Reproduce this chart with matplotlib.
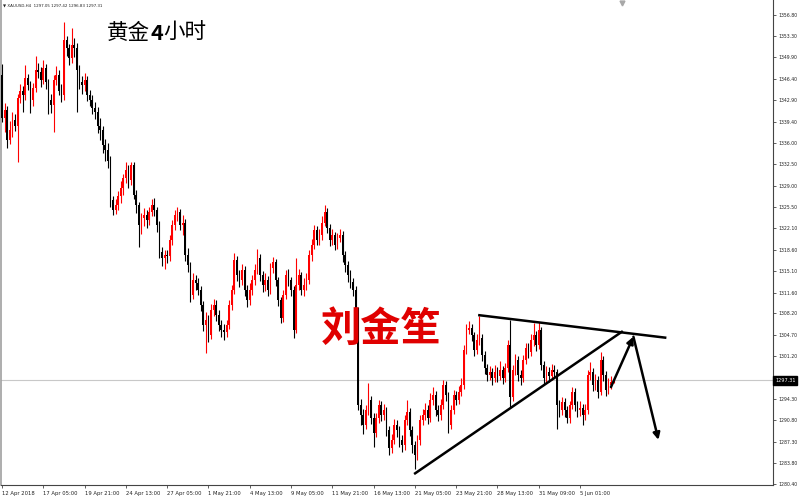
import matplotlib.pyplot as plt
import numpy as np

# XAUUSD H4, bars from 12 Apr 2018 13:00 (open of each bar = previous close)
first_open = 1347.0
close = [1340.0, 1341.3, 1336.4, 1338.0, 1339.7, 1338.8, 1343.2, 1344.5, 1343.7, 1346.5,
         1345.4, 1342.9, 1344.9, 1347.8, 1347.5, 1346.2, 1348.1, 1345.9, 1342.9, 1342.1,
         1346.2, 1347.0, 1344.5, 1343.7, 1352.7, 1351.4, 1349.8, 1351.9, 1351.4, 1347.8,
         1345.9, 1345.4, 1346.2, 1343.7, 1342.9, 1341.6, 1341.0, 1338.8, 1338.0, 1335.6,
         1334.8, 1333.1, 1326.6, 1325.0, 1325.8, 1327.3, 1328.6, 1330.2, 1331.5, 1329.9,
         1332.3, 1327.4, 1325.8, 1322.6, 1323.7, 1324.2, 1323.4, 1324.7, 1325.8, 1325.0,
         1322.6, 1318.2, 1317.2, 1317.7, 1317.5, 1320.1, 1322.6, 1324.2, 1324.7, 1322.6,
         1323.0, 1317.7, 1316.0, 1311.2, 1313.6, 1313.1, 1312.0, 1309.5, 1306.3, 1307.1,
         1304.6, 1308.7, 1309.5, 1307.9, 1306.3, 1305.5, 1305.1, 1306.3, 1309.5, 1312.0,
         1316.9, 1314.4, 1313.6, 1315.2, 1312.0, 1310.3, 1312.0, 1313.6, 1315.2, 1317.2,
         1314.4, 1312.8, 1313.6, 1312.0, 1315.6, 1316.5, 1313.6, 1310.3, 1307.4, 1311.2,
         1314.4, 1313.6, 1312.0, 1305.5, 1312.8, 1314.4, 1312.0, 1312.8, 1313.6, 1317.7,
         1319.3, 1321.7, 1320.1, 1320.9, 1323.0, 1324.7, 1322.1, 1320.1, 1320.9, 1319.3,
         1320.4, 1320.9, 1317.7, 1316.0, 1314.4, 1313.3, 1312.0, 1308.7, 1293.2, 1291.6,
         1290.0, 1292.4, 1294.1, 1291.1, 1288.8, 1291.1, 1293.2, 1291.6, 1292.4, 1289.2,
         1286.2, 1287.5, 1290.0, 1289.2, 1287.5, 1286.7, 1290.8, 1292.1, 1289.2, 1286.7,
         1285.1, 1287.5, 1290.8, 1291.6, 1292.4, 1291.1, 1294.1, 1294.9, 1292.4, 1291.6,
         1293.2, 1296.5, 1294.9, 1290.0, 1292.4, 1294.9, 1294.1, 1295.4, 1296.5, 1302.2,
         1305.5, 1305.9, 1304.6, 1302.2, 1303.8, 1304.2, 1301.4, 1299.3, 1298.1, 1298.6,
         1297.6, 1298.6, 1298.0, 1298.9, 1297.6, 1299.3, 1303.0, 1294.6, 1298.9, 1300.6,
         1298.1, 1297.6, 1300.6, 1302.5, 1301.9, 1303.8, 1304.6, 1303.0, 1305.5, 1299.8,
         1297.6, 1298.6, 1298.0, 1298.9, 1298.6, 1293.2, 1292.4, 1293.7, 1292.4, 1291.1,
         1293.2, 1295.4, 1293.2, 1292.4, 1292.8, 1291.6, 1292.4, 1298.1, 1298.6, 1296.5,
         1297.3, 1295.4, 1300.6, 1298.1, 1295.7, 1296.5, 1297.05, 1297.31]
high = [1348.8, 1342.5, 1342.0, 1339.5, 1341.0, 1340.6, 1343.9, 1345.6, 1345.2, 1348.6,
        1347.2, 1346.0, 1345.8, 1350.2, 1348.9, 1348.3, 1349.4, 1348.8, 1346.4, 1344.0,
        1347.0, 1348.5, 1347.8, 1345.5, 1355.6, 1353.4, 1352.0, 1354.6, 1353.0, 1352.3,
        1348.6, 1346.9, 1347.3, 1346.8, 1344.6, 1343.8, 1342.7, 1341.8, 1340.0, 1338.7,
        1336.6, 1336.0, 1333.8, 1327.3, 1326.9, 1328.1, 1329.7, 1330.9, 1332.9, 1332.3,
        1332.9, 1332.8, 1328.3, 1326.4, 1324.6, 1325.3, 1325.0, 1325.6, 1326.9, 1327.0,
        1325.6, 1323.2, 1319.0, 1318.6, 1318.5, 1320.9, 1323.4, 1325.0, 1325.5, 1325.2,
        1324.3, 1323.6, 1318.9, 1316.6, 1314.7, 1314.5, 1314.0, 1312.7, 1310.2, 1308.4,
        1307.9, 1309.7, 1310.6, 1310.3, 1308.8, 1307.1, 1306.4, 1307.2, 1310.3, 1312.9,
        1318.0, 1317.5, 1315.3, 1316.3, 1315.9, 1312.8, 1313.1, 1314.5, 1316.2, 1318.7,
        1317.8, 1315.1, 1314.8, 1314.3, 1316.4, 1317.4, 1317.0, 1314.2, 1310.9, 1312.0,
        1315.3, 1315.4, 1314.1, 1312.6, 1317.2, 1315.4, 1315.0, 1313.9, 1314.7, 1318.5,
        1320.3, 1322.6, 1322.4, 1322.0, 1324.0, 1325.8, 1325.3, 1322.8, 1321.9, 1321.5,
        1321.3, 1322.0, 1321.6, 1318.4, 1316.8, 1315.2, 1314.0, 1312.6, 1309.3, 1294.3,
        1292.6, 1293.3, 1296.9, 1294.8, 1291.9, 1292.0, 1294.1, 1294.0, 1293.5, 1293.0,
        1289.8, 1288.6, 1291.0, 1290.9, 1289.9, 1288.4, 1291.6, 1294.1, 1292.8, 1289.8,
        1287.4, 1288.4, 1291.6, 1292.7, 1293.6, 1293.2, 1295.2, 1296.2, 1295.5, 1293.2,
        1294.3, 1297.3, 1297.2, 1295.4, 1293.3, 1295.8, 1295.6, 1296.4, 1297.6, 1303.0,
        1306.5, 1306.9, 1306.4, 1305.2, 1304.8, 1307.8, 1304.9, 1302.0, 1300.0, 1299.7,
        1299.3, 1299.8, 1299.4, 1300.4, 1299.6, 1300.2, 1303.8, 1307.1, 1299.8, 1301.6,
        1301.2, 1298.9, 1301.5, 1303.4, 1303.3, 1304.9, 1306.6, 1305.4, 1306.8, 1306.0,
        1300.5, 1299.6, 1299.4, 1299.9, 1299.8, 1299.2, 1294.1, 1294.6, 1294.4, 1293.1,
        1294.0, 1296.2, 1296.0, 1294.0, 1293.9, 1293.5, 1293.4, 1298.9, 1300.3, 1299.3,
        1298.4, 1298.0, 1301.9, 1301.2, 1298.8, 1297.6, 1298.0, 1297.42]
low = [1339.3, 1337.8, 1335.2, 1335.8, 1337.0, 1337.9, 1332.8, 1342.4, 1341.0, 1343.0,
       1344.6, 1340.9, 1342.0, 1344.2, 1346.6, 1345.0, 1345.5, 1344.8, 1340.6, 1340.8,
       1337.8, 1345.4, 1343.8, 1342.6, 1343.0, 1350.2, 1348.6, 1349.0, 1349.9, 1341.0,
       1344.8, 1344.0, 1344.5, 1342.8, 1341.9, 1340.7, 1339.8, 1337.6, 1336.5, 1334.4,
       1333.0, 1331.9, 1325.5, 1324.3, 1324.4, 1325.0, 1326.2, 1327.5, 1329.4, 1328.7,
       1329.1, 1326.8, 1324.6, 1319.0, 1321.2, 1322.4, 1322.1, 1322.6, 1324.0, 1324.1,
       1321.5, 1317.3, 1315.9, 1315.5, 1316.4, 1316.8, 1319.4, 1321.8, 1323.3, 1321.8,
       1321.0, 1316.8, 1315.0, 1310.0, 1310.6, 1312.0, 1311.2, 1308.6, 1305.4, 1301.7,
       1303.6, 1304.0, 1307.8, 1307.0, 1305.3, 1304.4, 1303.9, 1304.3, 1305.6, 1308.8,
       1311.4, 1313.4, 1312.5, 1312.9, 1311.0, 1309.2, 1309.5, 1311.2, 1312.8, 1314.6,
       1313.5, 1311.7, 1311.9, 1311.0, 1311.4, 1314.8, 1312.7, 1309.4, 1306.6, 1306.8,
       1310.5, 1312.7, 1311.0, 1304.2, 1305.0, 1312.0, 1311.2, 1311.1, 1312.0, 1313.0,
       1316.8, 1318.7, 1319.3, 1319.4, 1320.2, 1322.4, 1321.3, 1319.2, 1319.4, 1318.5,
       1318.7, 1319.8, 1316.6, 1315.0, 1313.3, 1312.4, 1311.0, 1307.9, 1292.5, 1290.0,
       1288.6, 1289.4, 1291.7, 1290.2, 1286.4, 1288.0, 1290.4, 1290.6, 1290.8, 1288.2,
       1285.1, 1285.5, 1286.9, 1288.0, 1286.5, 1285.6, 1286.0, 1290.0, 1288.3, 1285.5,
       1282.9, 1284.4, 1286.8, 1290.0, 1290.8, 1290.2, 1290.5, 1293.3, 1291.5, 1290.6,
       1290.9, 1292.6, 1293.9, 1288.8, 1289.3, 1291.8, 1293.2, 1293.5, 1294.7, 1295.9,
       1301.6, 1304.8, 1303.7, 1301.3, 1301.6, 1303.0, 1300.5, 1298.4, 1297.2, 1297.3,
       1296.6, 1297.0, 1297.1, 1297.3, 1296.7, 1297.0, 1298.7, 1293.0, 1294.0, 1298.2,
       1297.2, 1296.6, 1297.0, 1299.9, 1300.9, 1301.2, 1302.9, 1302.0, 1302.4, 1298.9,
       1296.7, 1296.9, 1297.0, 1297.3, 1297.6, 1289.4, 1291.4, 1291.6, 1291.3, 1290.3,
       1290.4, 1292.6, 1292.3, 1291.4, 1291.5, 1290.0, 1290.8, 1291.8, 1297.4, 1295.6,
       1295.8, 1294.5, 1294.9, 1297.2, 1294.8, 1295.0, 1295.9, 1296.83]

x_labels = ["12 Apr 2018", "17 Apr 05:00", "19 Apr 21:00", "24 Apr 13:00", "27 Apr 05:00",
            "1 May 21:00", "4 May 13:00", "9 May 05:00", "11 May 21:00", "16 May 13:00",
            "21 May 05:00", "23 May 21:00", "28 May 13:00", "31 May 09:00", "5 Jun 01:00"]
y_ticks = [1356.80, 1353.30, 1349.90, 1346.40, 1342.90, 1339.40, 1336.00, 1332.50,
           1329.00, 1325.50, 1322.10, 1318.60, 1315.10, 1311.60, 1308.20, 1304.70,
           1301.20, 1294.30, 1290.80, 1287.30, 1283.80, 1280.40]
last_price = 1297.31
header = '▼ XAUUSD,H4  1297.05 1297.42 1296.83 1297.31'
shift_marker_bar = 240.2

# hand-drawn annotations (bar index, price)
top_line_x = [185.0, 257.0]
top_line_y = [1307.9, 1304.25]
base_line_x = [160.1, 240.2]
base_line_y = [1282.15, 1305.2]
path_x = [236.0, 244.7, 254.4]
path_y = [1296.2, 1304.4, 1287.6]

c = np.array(close)
o = np.r_[first_open, c[:-1]]
idx = np.arange(len(c))
cols = np.where(c >= o, '#ff0000', '#000000')

fig = plt.figure(figsize=(8, 4.99), dpi=100)
ax = fig.add_axes([1 / 800, 14 / 499, 772 / 800, 485 / 499])

ax.axhline(last_price, color='#c8c8c8', lw=0.8, zorder=1)
ax.vlines(idx, low, high, colors=cols, lw=0.8, zorder=2)
body = np.maximum(np.abs(c - o), 0.12)
ax.bar(idx, body, bottom=np.minimum(o, c), width=0.66, color=cols, lw=0, zorder=3)

ax.plot(top_line_x, top_line_y, color='black', lw=1.8, zorder=4)
ax.plot(base_line_x, base_line_y, color='black', lw=1.8, zorder=4)
for i in range(2):
    ax.annotate('', xy=(path_x[i + 1], path_y[i + 1]), xytext=(path_x[i], path_y[i]),
                arrowprops=dict(arrowstyle='-|>', color='black', lw=1.8,
                                mutation_scale=10, shrinkA=0, shrinkB=0), zorder=5)

ax.plot([shift_marker_bar], [1358.7], marker='v', ms=3.5, color='#a8a8a8', clip_on=False)

ax.set_xlim(-0.4, 298.8)
ax.set_ylim(1280.25, 1359.24)

ax.set_xticks(range(0, 16 * len(x_labels), 16))
ax.set_xticklabels(x_labels, ha='left', fontsize=3.8, color='#222222')
ax.yaxis.tick_right()
ax.set_yticks(y_ticks)
ax.set_yticklabels([f'{v:.2f}' for v in y_ticks], fontsize=3.3, color='#222222')
ax.tick_params(axis='both', length=2.5, width=0.6, color='#444444', pad=1.5)

ax.spines['top'].set_visible(False)
ax.spines['left'].set_color('#a0a0a0')
ax.spines['left'].set_linewidth(1.2)
ax.spines['bottom'].set_color('#444444')
ax.spines['right'].set_color('#444444')
ax.spines['bottom'].set_linewidth(0.8)
ax.spines['right'].set_linewidth(0.8)

ax.annotate(f'{last_price:.2f}', xy=(1.0, last_price), xycoords=('axes fraction', 'data'),
            xytext=(1.5, 0), textcoords='offset points', ha='left', va='center',
            fontsize=3.6, color='white', annotation_clip=False, zorder=10,
            bbox=dict(boxstyle='square,pad=0.35', fc='black', ec='black'))

ax.text(0.003, 0.993, header, transform=ax.transAxes,
        ha='left', va='top', fontsize=2.9, color='#222222')

cjk = ['Noto Sans CJK SC', 'DejaVu Sans']
fig.text(150 / 800, 1 - 33 / 499, '黄金', ha='right', va='center', fontsize=15.5,
         family=cjk, color='black')
fig.text(156.5 / 800, 1 - 33 / 499, '4', ha='center', va='center', fontsize=15.5,
         family=cjk, fontweight='bold', color='black')
fig.text(163 / 800, 1 - 33 / 499, '小时', ha='left', va='center', fontsize=15.5,
         family=cjk, color='black')
fig.text(381 / 800, 1 - 329 / 499, '刘金笙', ha='center', va='center', fontsize=29,
         family=cjk, fontweight='bold', color='#e00000')

fig.savefig('out.png', dpi=100)
